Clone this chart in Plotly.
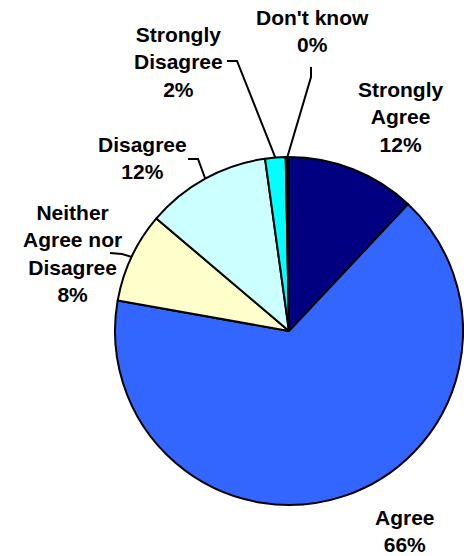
import math
import plotly.graph_objects as go

labels = ["Strongly Agree", "Agree", "Neither Agree nor Disagree", "Disagree", "Strongly Disagree", "Don't know"]
display_labels = ["Strongly<br>Agree", "Agree", "Neither<br>Agree nor<br>Disagree", "Disagree", "Strongly<br>Disagree", "Don't know"]
values = [12.0, 65.8, 8.4, 11.6, 1.9, 0.3]
colors = ["#000080", "#3366FF", "#FFFFCC", "#CCFFFF", "#00FFFF", "#000000"]

W, H = 464, 556
cx, cy, r = 289, 331, 174

# label block centers (pixels) and leader elbow points (pixels)
label_pos = [(400, 117), (405, 531), (72, 253), (142, 158), (178, 62), (312, 31)]
leaders = [None, None, [(110, 253), (122, 254)], [(188, 159), (198, 159)], [(227, 61), (237, 61)], [(311, 67), (311, 77)]]

fig = go.Figure(go.Pie(
    labels=labels, values=values, sort=False, direction="clockwise", rotation=0,
    marker=dict(colors=colors, line=dict(color="black", width=2)),
    textinfo="none", hoverinfo="label+percent", showlegend=False,
    domain=dict(x=[(cx - r) / W, (cx + r) / W], y=[1 - (cy + r) / H, 1 - (cy - r) / H]),
))

def px2paper(x, y):
    return x / W, 1 - y / H

total = sum(values)
cum = 0
annotations, shapes = [], []
for i, v in enumerate(values):
    mid = (cum + v / 2) / total * 2 * math.pi
    cum += v
    ex, ey = cx + r * math.sin(mid), cy - r * math.cos(mid)
    lx, ly = label_pos[i]
    px, py = px2paper(lx, ly)
    annotations.append(dict(
        x=px, y=py, xref="paper", yref="paper", showarrow=False,
        text=f"{display_labels[i]}<br>{round(v)}%", align="center",
        xanchor="center", yanchor="middle",
        font=dict(family="Liberation Sans, Arial", size=21, color="black", weight="bold"),
    ))
    if leaders[i]:
        pts = leaders[i] + [(ex, ey)]
        path = "M " + " L ".join(f"{px2paper(x, y)[0]},{px2paper(x, y)[1]}" for x, y in pts)
        shapes.append(dict(type="path", path=path, xref="paper", yref="paper",
                           line=dict(color="black", width=2)))

fig.update_layout(
    width=W, height=H, margin=dict(l=0, r=0, t=0, b=0),
    paper_bgcolor="white", plot_bgcolor="white",
    annotations=annotations, shapes=shapes,
)
fig.write_html("out.html", config={"displayModeBar": False},
               post_script="document.body.style.margin='0';document.body.style.overflow='hidden';")
